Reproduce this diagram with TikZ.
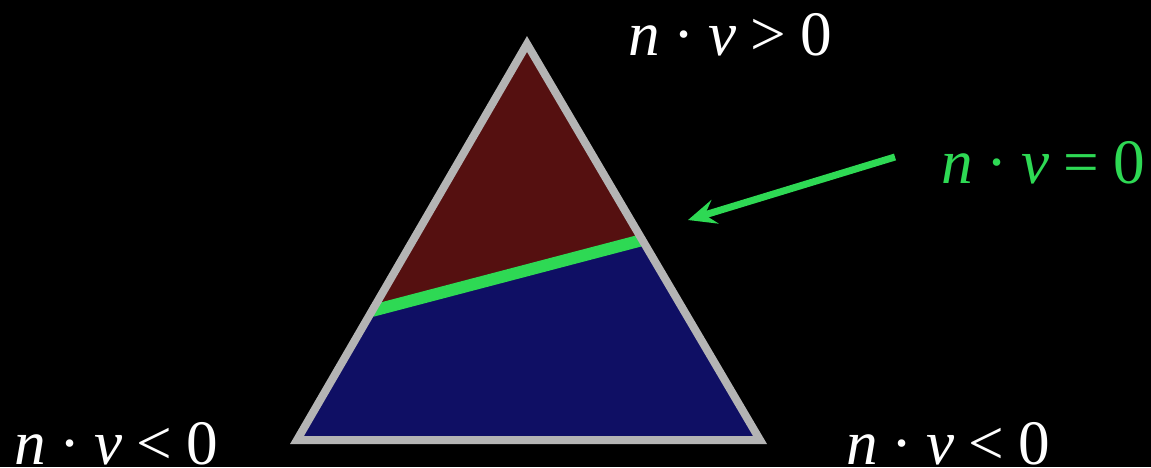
\documentclass[tikz,border=0pt]{standalone}
\usepackage{amsmath,amssymb}
\usepackage{fontspec}
\setmainfont{Liberation Serif}
\usetikzlibrary{arrows.meta,calc}

\definecolor{edgegray}{RGB}{180,180,180}
\definecolor{posred}{RGB}{85,16,16}
\definecolor{negblue}{RGB}{15,15,100}
\definecolor{zerogreen}{RGB}{46,217,84}

\newcommand{\nv}[1]{\textit{n}\hspace{0.22em}·\hspace{0.22em}\textit{v}\hspace{0.22em}#1\hspace{0.22em}0}

\tikzset{
  lbl/.style={white,anchor=base,inner sep=0pt,font=\fontsize{36}{42}\selectfont},
}

\begin{document}
\begin{tikzpicture}[x=0.02cm,y=-0.02cm]
  \fill[black] (0,0) rectangle (1151,467);
  \useasboundingbox (0,0) rectangle (1151,467);
  \coordinate (T) at (527,44);
  \coordinate (L) at (297,440);
  \coordinate (R) at (760,440);
  \coordinate (zl) at ($(T)!0.674!(L)$);
  \coordinate (zr) at ($(T)!0.495!(R)$);
  \fill[negblue] (L)--(R)--(T)--cycle;
  \fill[posred] (T)--(zl)--(zr)--cycle;
  \draw[zerogreen,line width=12*0.02cm] (zl)--(zr);
  \draw[edgegray,line width=8*0.02cm,line join=miter] (T)--(L)--(R)--cycle;
  % labels
  \node[lbl] (top) at (730,55) {\nv{>}};
  \node[lbl,zerogreen] (zero) at (1043,183) {\nv{=}};
  \node[lbl] (left) at (116,464) {\nv{<}};
  \node[lbl] (right) at (948,464) {\nv{<}};
  \coordinate (as) at (895,157);
  \coordinate (ae) at (688,220);
  \draw[zerogreen,line width=7*0.02cm,-{Stealth[length=16pt,width=14pt,inset=6pt]}] (as)--(ae);
\end{tikzpicture}
\end{document}
